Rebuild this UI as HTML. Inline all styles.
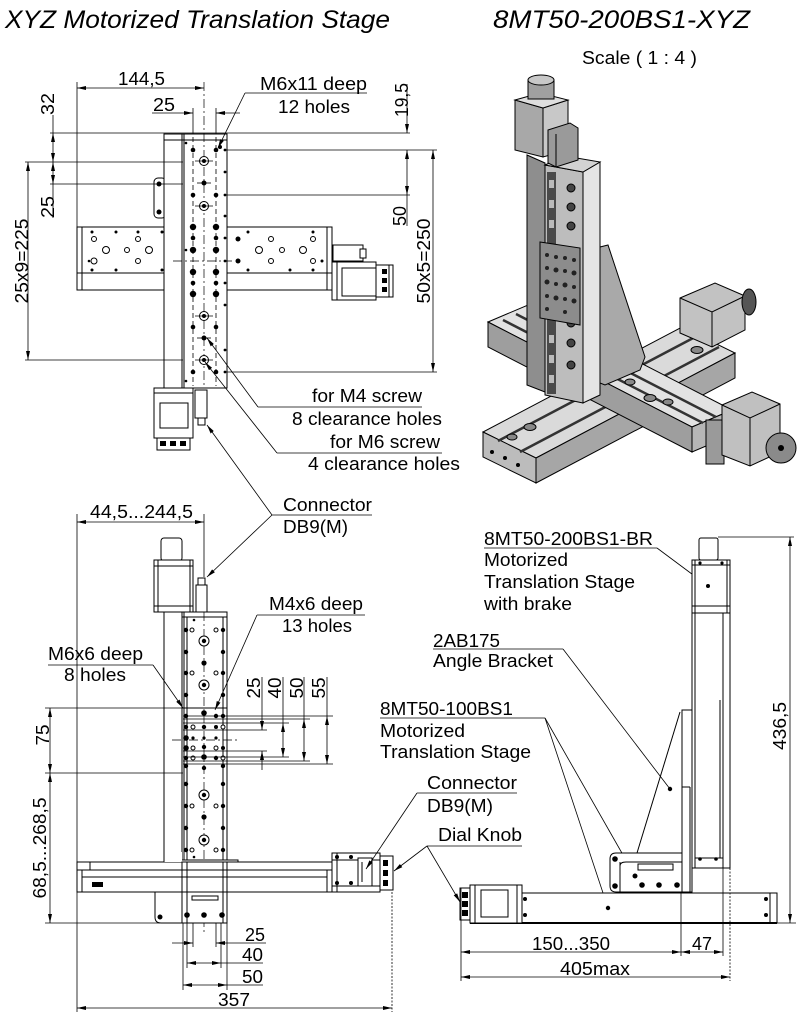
<!DOCTYPE html>
<html><head><meta charset="utf-8">
<style>
html,body{margin:0;padding:0;background:#fff;}
svg{display:block;}
text{font-family:"Liberation Sans",Arial,sans-serif;font-size:18px;fill:#000;}
.ti{font-style:italic;font-size:25px;}
.l{stroke:#000;stroke-width:1;fill:none;}
.d{stroke:#000;stroke-width:0.8;fill:none;}
.w{fill:#fff;stroke:#000;stroke-width:1;}
.k{fill:#000;}
.o{fill:#fff;stroke:#000;stroke-width:1;}
.ds{stroke:#000;stroke-width:0.8;stroke-dasharray:5 3;fill:none;}
.cl{stroke:#000;stroke-width:0.7;stroke-dasharray:9 3 2 3;fill:none;}
.g{stroke:#000;stroke-width:0.8;}
</style></head><body>
<svg width="798" height="1023" viewBox="0 0 798 1023" xmlns="http://www.w3.org/2000/svg">
<defs>
<marker id="a" viewBox="0 0 9 4" refX="9" refY="2" markerWidth="9" markerHeight="4" orient="auto-start-reverse" markerUnits="userSpaceOnUse"><path d="M0,0L9,2L0,4z" fill="#000"/></marker>
</defs>

<!-- TITLES -->
<text class="ti" x="5" y="28" textLength="385" lengthAdjust="spacingAndGlyphs">XYZ Motorized Translation Stage</text>
<text class="ti" x="493" y="28" textLength="257" lengthAdjust="spacingAndGlyphs">8MT50-200BS1-XYZ</text>
<text x="582" y="64" font-size="16" textLength="115" lengthAdjust="spacingAndGlyphs">Scale ( 1 : 4 )</text>

<!-- ================= TOP-LEFT (top view) ================= -->
<!-- X stage -->
<rect class="w" x="77" y="227" width="255" height="63"/>
<line class="l" x1="77" y1="273" x2="332" y2="273"/>
<line class="l" x1="82" y1="227" x2="82" y2="290"/>
<line class="l" x1="327" y1="227" x2="327" y2="290"/>
<g class="o">
<circle cx="94" cy="239" r="2.5"/><circle cx="106" cy="250" r="3.5"/><circle cx="127" cy="250" r="2.5"/><circle cx="149" cy="250" r="3.5"/><circle cx="138" cy="239" r="2.5"/><circle cx="138" cy="261" r="2.5"/><circle cx="94" cy="261" r="3"/>
<circle cx="271" cy="239" r="2.5"/><circle cx="259" cy="250" r="3.5"/><circle cx="282" cy="250" r="2.5"/><circle cx="303" cy="250" r="3.5"/><circle cx="271" cy="261" r="2.5"/><circle cx="313" cy="239" r="2.5"/><circle cx="313" cy="261" r="2.5"/>
</g>
<g class="k">
<circle cx="92" cy="232" r="1.5"/><circle cx="116" cy="232" r="1.5"/><circle cx="138" cy="232" r="1.5"/><circle cx="162" cy="232" r="1.5"/><circle cx="248" cy="232" r="1.5"/><circle cx="313" cy="232" r="1.5"/>
<circle cx="92" cy="270" r="1.5"/><circle cx="116" cy="270" r="1.5"/><circle cx="162" cy="270" r="1.5"/><circle cx="248" cy="270" r="1.5"/><circle cx="290" cy="270" r="1.5"/><circle cx="313" cy="270" r="1.5"/>
<circle cx="89" cy="261" r="1.3"/><circle cx="322" cy="261" r="1.5"/><circle cx="238" cy="261" r="2.5"/><circle cx="238" cy="239" r="2.5"/>
</g>
<!-- X motor (top view) -->
<rect class="w" x="333" y="245" width="30" height="16"/>
<rect class="w" x="360" y="249" width="6" height="9"/>
<rect class="w" x="332" y="262" width="44" height="38"/>
<line class="l" x1="337" y1="262" x2="337" y2="300"/>
<rect class="w" x="342" y="268" width="34" height="28"/>
<rect class="w" x="376" y="265" width="17" height="32"/>
<line class="l" x1="389" y1="265" x2="389" y2="297"/>
<g class="k"><rect x="382" y="269" width="5" height="5"/><rect x="382" y="278" width="5" height="5"/><rect x="382" y="287" width="5" height="5"/></g>

<!-- Bracket left of column -->
<rect class="w" x="154" y="178" width="12" height="40" rx="4"/>
<circle class="k" cx="159" cy="184" r="2.5"/><circle class="k" cx="159" cy="212" r="2.5"/>

<!-- Column (Y stage top view) -->
<rect class="w" x="164" y="134" width="63" height="254"/>
<line class="l" x1="182" y1="134" x2="182" y2="388"/>
<line class="l" x1="184" y1="134" x2="184" y2="388"/>
<line class="l" x1="164" y1="140" x2="227" y2="140"/>
<line class="ds" x1="193" y1="137" x2="193" y2="386"/>
<line class="ds" x1="216" y1="137" x2="216" y2="386"/>
<line class="cl" x1="204" y1="82" x2="204" y2="386"/>
<line class="cl" x1="173" y1="261" x2="232" y2="261"/>
<g class="k">
<circle cx="193" cy="150" r="2.3"/><circle cx="216" cy="150" r="2.3"/>
<circle cx="193" cy="195" r="2.3"/><circle cx="216" cy="195" r="2.3"/>
<circle cx="193" cy="227" r="3.2"/><circle cx="216" cy="227" r="3.2"/>
<circle cx="193" cy="238" r="2.3"/><circle cx="216" cy="238" r="2.3"/>
<circle cx="193" cy="250" r="3.2"/><circle cx="216" cy="250" r="3.2"/>
<circle cx="193" cy="272" r="3.2"/><circle cx="216" cy="272" r="3.2"/>
<circle cx="193" cy="283" r="2.3"/><circle cx="216" cy="283" r="2.3"/>
<circle cx="193" cy="294" r="3.2"/><circle cx="216" cy="294" r="3.2"/>
<circle cx="193" cy="327" r="2.3"/><circle cx="216" cy="327" r="2.3"/>
<circle cx="193" cy="372" r="2.3"/><circle cx="216" cy="372" r="2.3"/>
<circle cx="204" cy="183" r="2.5"/><circle cx="204" cy="338" r="2.5"/>
<circle cx="225" cy="150" r="1.4"/><circle cx="225" cy="172" r="1.4"/><circle cx="225" cy="195" r="1.4"/><circle cx="225" cy="216" r="1.4"/><circle cx="225" cy="238" r="1.4"/><circle cx="225" cy="261" r="1.4"/><circle cx="225" cy="283" r="1.4"/><circle cx="225" cy="305" r="1.4"/><circle cx="225" cy="350" r="1.4"/><circle cx="225" cy="372" r="1.4"/>
<circle cx="186" cy="143" r="1.3"/><circle cx="186" cy="250" r="1.3"/><circle cx="186" cy="381" r="1.3"/><circle cx="220" cy="147" r="2"/>
</g>
<g><circle class="o" cx="204" cy="161" r="4.5"/><circle class="k" cx="204" cy="161" r="2"/>
<circle class="o" cx="204" cy="206" r="4.5"/><circle class="k" cx="204" cy="206" r="2"/>
<circle class="o" cx="204" cy="316" r="4.5"/><circle class="k" cx="204" cy="316" r="2"/>
<circle class="o" cx="204" cy="360" r="4.5"/><circle class="k" cx="204" cy="360" r="2"/></g>
<g class="d"><line x1="195" y1="161" x2="213" y2="161"/><line x1="195" y1="206" x2="213" y2="206"/><line x1="195" y1="316" x2="213" y2="316"/><line x1="195" y1="360" x2="213" y2="360"/><line x1="197" y1="183" x2="211" y2="183"/><line x1="197" y1="338" x2="211" y2="338"/></g>

<!-- Y motor (top view, bottom) -->
<rect class="w" x="154" y="388" width="39" height="50"/>
<line class="l" x1="154" y1="393" x2="193" y2="393"/>
<rect class="w" x="160" y="403" width="28" height="25"/>
<rect class="w" x="157" y="438" width="33" height="12"/>
<g class="k"><rect x="160" y="441" width="6" height="5"/><rect x="170" y="441" width="6" height="5"/><rect x="180" y="441" width="6" height="5"/></g>
<rect class="w" x="195" y="390" width="12" height="28"/>
<rect class="w" x="198" y="418" width="7" height="7"/>

<!-- dims top-left -->
<line class="d" x1="77" y1="82" x2="77" y2="227"/>
<line class="d" x1="77" y1="88" x2="204" y2="88" marker-start="url(#a)" marker-end="url(#a)"/>
<text x="118" y="85" textLength="47" lengthAdjust="spacingAndGlyphs">144,5</text>
<line class="d" x1="193" y1="108" x2="193" y2="134"/>
<line class="d" x1="216" y1="108" x2="216" y2="134"/>
<line class="d" x1="152" y1="113" x2="193" y2="113" marker-end="url(#a)"/>
<line class="d" x1="240" y1="113" x2="216" y2="113" marker-end="url(#a)"/>
<text x="153" y="111" textLength="22" lengthAdjust="spacingAndGlyphs">25</text>

<line class="d" x1="50" y1="133" x2="410" y2="133"/>
<line class="d" x1="25" y1="162" x2="183" y2="162"/>
<line class="d" x1="50" y1="184" x2="183" y2="184"/>
<line class="d" x1="25" y1="360" x2="183" y2="360"/>
<line class="d" x1="227" y1="150" x2="437" y2="150"/>
<line class="d" x1="227" y1="195" x2="410" y2="195"/>
<line class="d" x1="227" y1="372" x2="437" y2="372"/>

<line class="d" x1="53" y1="115" x2="53" y2="133"/>
<line class="d" x1="53" y1="133" x2="53" y2="162" marker-start="url(#a)" marker-end="url(#a)"/>
<line class="d" x1="53" y1="162" x2="53" y2="184" marker-start="url(#a)" marker-end="url(#a)"/>
<line class="d" x1="53" y1="184" x2="53" y2="218"/>
<text transform="translate(48,104) rotate(-90)" x="0" y="6" text-anchor="middle" textLength="22" lengthAdjust="spacingAndGlyphs">32</text>
<text transform="translate(48,207) rotate(-90)" x="0" y="6" text-anchor="middle" textLength="22" lengthAdjust="spacingAndGlyphs">25</text>
<line class="d" x1="28" y1="162" x2="28" y2="360" marker-start="url(#a)" marker-end="url(#a)"/>
<text transform="translate(22,261) rotate(-90)" x="0" y="6" text-anchor="middle" textLength="85" lengthAdjust="spacingAndGlyphs">25x9=225</text>

<line class="d" x1="407" y1="84" x2="407" y2="133" marker-end="url(#a)"/>
<line class="d" x1="407" y1="150" x2="407" y2="195" marker-start="url(#a)" marker-end="url(#a)"/>
<line class="d" x1="407" y1="195" x2="407" y2="226"/>
<text transform="translate(402,100) rotate(-90)" x="0" y="6" text-anchor="middle" textLength="34" lengthAdjust="spacingAndGlyphs">19,5</text>
<text transform="translate(400,216) rotate(-90)" x="0" y="6" text-anchor="middle" textLength="20" lengthAdjust="spacingAndGlyphs">50</text>
<line class="d" x1="433" y1="150" x2="433" y2="372" marker-start="url(#a)" marker-end="url(#a)"/>
<text transform="translate(424,261) rotate(-90)" x="0" y="6" text-anchor="middle" textLength="85" lengthAdjust="spacingAndGlyphs">50x5=250</text>

<!-- leaders top-left -->
<text x="260" y="90" textLength="107" lengthAdjust="spacingAndGlyphs">M6x11 deep</text>
<text x="278" y="113" textLength="72" lengthAdjust="spacingAndGlyphs">12 holes</text>
<line class="d" x1="245" y1="93" x2="367" y2="93"/>
<line class="d" x1="245" y1="93" x2="218" y2="148" marker-end="url(#a)"/>

<text x="312" y="402" textLength="110" lengthAdjust="spacingAndGlyphs">for M4 screw</text>
<line class="d" x1="258" y1="407" x2="422" y2="407"/>
<line class="d" x1="258" y1="407" x2="207" y2="338" marker-end="url(#a)"/>
<text x="292" y="425" textLength="150" lengthAdjust="spacingAndGlyphs">8 clearance holes</text>
<text x="330" y="448" textLength="110" lengthAdjust="spacingAndGlyphs">for M6 screw</text>
<line class="d" x1="277" y1="453" x2="442" y2="453"/>
<line class="d" x1="277" y1="453" x2="205" y2="362" marker-end="url(#a)"/>
<text x="308" y="470" textLength="152" lengthAdjust="spacingAndGlyphs">4 clearance holes</text>

<text x="283" y="511" textLength="89" lengthAdjust="spacingAndGlyphs">Connector</text>
<text x="283" y="533" textLength="65" lengthAdjust="spacingAndGlyphs">DB9(M)</text>
<line class="d" x1="272" y1="515" x2="372" y2="515"/>
<line class="d" x1="272" y1="515" x2="207" y2="425" marker-end="url(#a)"/>
<line class="d" x1="272" y1="515" x2="207" y2="577" marker-end="url(#a)"/>

<!-- ================= 3D VIEW ================= -->
<!-- stage 1 -->
<polygon points="483,432 536,458 735,353 682,327" fill="#dadada" stroke="#000"/>
<polygon points="536,458 735,353 735,378 536,483" fill="#a6a6a6" stroke="#000"/>
<polygon points="483,432 536,458 536,483 483,457" fill="#bcbcbc" stroke="#000"/>
<line x1="498" y1="441" x2="697" y2="336" stroke="#333" stroke-width="2.5"/>
<line x1="520" y1="452" x2="719" y2="347" stroke="#333" stroke-width="2.5"/>
<ellipse cx="530" cy="427" rx="6" ry="3.5" fill="#888" stroke="#000"/>
<ellipse cx="512" cy="437" rx="5" ry="3" fill="#888" stroke="#000"/>
<ellipse cx="697" cy="350" rx="6" ry="3.5" fill="#888" stroke="#000"/>
<circle cx="492" cy="452" r="2" fill="#000"/><circle cx="505" cy="458" r="2" fill="#000"/><circle cx="518" cy="465" r="2" fill="#000"/>
<!-- stage 1 motor -->
<polygon points="680,298 715,283 745,296 745,330 712,347 680,333" fill="#c2c2c2" stroke="#000"/>
<polyline points="680,298 712,312 745,296" fill="none" stroke="#000"/>
<line x1="712" y1="312" x2="712" y2="347" stroke="#000"/>
<ellipse cx="749" cy="302" rx="7" ry="13" fill="#555" stroke="#000"/>
<!-- stage 2 -->
<polygon points="488,322 528,305 732,410 692,427" fill="#e2e2e2" stroke="#000"/>
<polygon points="488,322 692,427 692,452 488,347" fill="#9e9e9e" stroke="#000"/>
<polygon points="692,427 732,410 732,435 692,452" fill="#b6b6b6" stroke="#000"/>
<line x1="503" y1="320" x2="703" y2="423" stroke="#333" stroke-width="2.5"/>
<line x1="516" y1="314" x2="716" y2="417" stroke="#333" stroke-width="2.5"/>
<ellipse cx="650" cy="398" rx="6" ry="3.5" fill="#888" stroke="#000"/>
<ellipse cx="668" cy="402" rx="5" ry="3" fill="#888" stroke="#000"/>
<ellipse cx="630" cy="382" rx="5" ry="3" fill="#888" stroke="#000"/>
<!-- stage 2 motor -->
<rect x="706" y="420" width="18" height="44" fill="#9a9a9a" stroke="#000"/>
<polygon points="722,405 752,392 780,404 780,452 750,466 722,455" fill="#c0c0c0" stroke="#000"/>
<polyline points="722,405 750,418 780,404" fill="none" stroke="#000"/>
<line x1="750" y1="418" x2="750" y2="466" stroke="#000"/>
<circle cx="781" cy="448" r="15" fill="#8a8a8a" stroke="#000"/>
<circle cx="781" cy="448" r="3" fill="#000"/>
<!-- bracket -->
<polygon points="600,247 608,245 645,357 640,370 605,385 600,383" fill="#a9a9a9" stroke="#000"/>
<!-- column -->
<polygon points="527,155 545,163 545,392 527,385" fill="#8e8e8e" stroke="#000"/>
<polygon points="545,165 583,172 583,403 545,395" fill="#bdbdbd" stroke="#000"/>
<polygon points="583,172 600,162 600,395 583,403" fill="#e4e4e4" stroke="#000"/>
<polygon points="545,165 565,156 600,162 583,172" fill="#d2d2d2" stroke="#000"/>
<rect x="547" y="172" width="9" height="222" fill="#4a4a4a"/>
<g fill="#bbb"><rect x="549" y="180" width="5" height="8"/><rect x="549" y="200" width="5" height="8"/><rect x="549" y="220" width="5" height="8"/><rect x="549" y="335" width="5" height="8"/><rect x="549" y="355" width="5" height="8"/><rect x="549" y="375" width="5" height="8"/></g>
<g fill="#444" stroke="#000"><circle cx="571" cy="188" r="4"/><circle cx="571" cy="207" r="4"/><circle cx="571" cy="226" r="4"/><circle cx="571" cy="323" r="4"/><circle cx="571" cy="343" r="4"/><circle cx="571" cy="365" r="4"/></g>
<polygon points="540,242 580,248 580,325 540,318" fill="#8c8c8c" stroke="#000"/>
<g fill="#222"><circle cx="547" cy="255" r="2"/><circle cx="556" cy="257" r="2"/><circle cx="565" cy="258" r="2"/><circle cx="574" cy="260" r="2"/><circle cx="547" cy="268" r="2"/><circle cx="556" cy="270" r="2.5"/><circle cx="565" cy="271" r="2"/><circle cx="574" cy="273" r="2.5"/><circle cx="547" cy="282" r="2.5"/><circle cx="556" cy="284" r="2"/><circle cx="565" cy="285" r="2.5"/><circle cx="574" cy="287" r="2"/><circle cx="547" cy="296" r="2"/><circle cx="556" cy="298" r="2.5"/><circle cx="565" cy="299" r="2"/><circle cx="574" cy="301" r="2.5"/><circle cx="547" cy="309" r="2"/><circle cx="565" cy="312" r="2"/></g>
<!-- Z motor -->
<polygon points="515,100 543,108 543,157 515,150" fill="#a8a8a8" stroke="#000"/>
<polygon points="543,108 568,100 568,150 543,157" fill="#c8c8c8" stroke="#000"/>
<polygon points="515,100 540,93 568,100 543,108" fill="#dedede" stroke="#000"/>
<rect x="528" y="80" width="26" height="19" fill="#a0a0a0" stroke="#000"/>
<ellipse cx="541" cy="80" rx="13" ry="5" fill="#c8c8c8" stroke="#000"/>
<polygon points="548,130 570,123 578,128 578,160 556,167 548,163" fill="#9a9a9a" stroke="#000"/>
<line x1="556" y1="134" x2="556" y2="167" stroke="#000"/>

<!-- ================= BOTTOM-LEFT (front view) ================= -->
<line class="d" x1="77" y1="514" x2="77" y2="1012"/>
<line class="d" x1="204" y1="514" x2="204" y2="577"/>
<line class="d" x1="77" y1="522" x2="204" y2="522" marker-start="url(#a)" marker-end="url(#a)"/>
<text x="90" y="518" textLength="103" lengthAdjust="spacingAndGlyphs">44,5...244,5</text>
<!-- Z motor -->
<rect class="w" x="161" y="538" width="21" height="23" rx="3"/>
<rect class="w" x="154" y="560" width="39" height="52"/>
<line class="l" x1="158" y1="560" x2="158" y2="612"/>
<line class="l" x1="190" y1="560" x2="190" y2="612"/>
<line class="l" x1="154" y1="566" x2="193" y2="566"/>
<line class="l" x1="154" y1="606" x2="193" y2="606"/>
<rect class="w" x="196" y="585" width="11" height="27"/>
<rect class="w" x="198" y="578" width="7" height="7"/>
<!-- column -->
<rect class="w" x="164" y="612" width="63" height="250"/>
<line class="l" x1="182" y1="612" x2="182" y2="862"/>
<line class="l" x1="184" y1="612" x2="184" y2="862"/>
<line class="l" x1="187" y1="617" x2="187" y2="862"/>
<line class="l" x1="223" y1="617" x2="223" y2="862"/>
<line class="l" x1="182" y1="617" x2="227" y2="617"/>
<line class="l" x1="182" y1="708" x2="227" y2="708"/>
<line class="cl" x1="204" y1="612" x2="204" y2="935"/>
<g class="k">
<circle cx="186" cy="630" r="2.2"/><circle cx="223" cy="630" r="2.2"/><circle cx="186" cy="652" r="2.2"/><circle cx="223" cy="652" r="2.2"/><circle cx="186" cy="673" r="2.2"/><circle cx="223" cy="673" r="2.2"/><circle cx="186" cy="695" r="2.2"/><circle cx="223" cy="695" r="2.2"/>
<circle cx="204" cy="663" r="2.6"/>
<circle cx="204" cy="817" r="2.6"/>
<circle cx="186" cy="784" r="2.2"/><circle cx="223" cy="784" r="2.2"/><circle cx="186" cy="828" r="2.2"/><circle cx="223" cy="828" r="2.2"/><circle cx="186" cy="850" r="2.2"/><circle cx="223" cy="850" r="2.2"/><circle cx="186" cy="806" r="2.2"/><circle cx="223" cy="806" r="2.2"/>
<circle cx="194" cy="857" r="1.3"/><circle cx="194" cy="620" r="1.3"/>
</g>
<g class="o"><circle cx="192" cy="630" r="2"/><circle cx="216" cy="630" r="2"/><circle cx="192" cy="673" r="2"/><circle cx="216" cy="673" r="2"/><circle cx="192" cy="806" r="2"/><circle cx="216" cy="806" r="2"/><circle cx="192" cy="850" r="2"/><circle cx="216" cy="850" r="2"/></g>
<circle class="o" cx="204" cy="641" r="5"/><circle class="k" cx="204" cy="641" r="2.2"/>
<circle class="o" cx="204" cy="685" r="5"/><circle class="k" cx="204" cy="685" r="2.2"/>
<circle class="o" cx="204" cy="795" r="5"/><circle class="k" cx="204" cy="795" r="2.2"/>
<circle class="o" cx="204" cy="840" r="5"/><circle class="k" cx="204" cy="840" r="2.2"/>
<!-- hole grid -->
<g class="k">
<circle cx="186" cy="716" r="2.2"/><circle cx="204" cy="713" r="2.8"/><circle cx="216" cy="716" r="2.2"/><circle cx="223" cy="716" r="2.2"/>
<circle cx="186" cy="727" r="2.2"/><circle cx="204" cy="727" r="2.2"/><circle cx="216" cy="727" r="2"/>
<circle cx="186" cy="738" r="2.8"/><circle cx="193" cy="738" r="1.6"/><circle cx="204" cy="738" r="1.6"/><circle cx="216" cy="738" r="1.6"/>
<circle cx="186" cy="748" r="2.8"/><circle cx="204" cy="747" r="2.2"/><circle cx="223" cy="748" r="2"/>
<circle cx="186" cy="758" r="2.2"/><circle cx="204" cy="757" r="2.8"/><circle cx="216" cy="758" r="2.2"/>
<circle cx="186" cy="766" r="2.2"/><circle cx="204" cy="768" r="2.2"/><circle cx="223" cy="766" r="2.2"/>
</g>
<g class="o"><circle cx="193" cy="727" r="2"/><circle cx="223" cy="727" r="2"/><circle cx="193" cy="748" r="2"/><circle cx="216" cy="748" r="2"/><circle cx="193" cy="758" r="2"/><circle cx="223" cy="758" r="2"/></g>
<line class="cl" x1="172" y1="740" x2="237" y2="740"/>
<!-- M4x6 / M6x6 leaders -->
<text x="269" y="610" textLength="94" lengthAdjust="spacingAndGlyphs">M4x6 deep</text>
<text x="282" y="632" textLength="70" lengthAdjust="spacingAndGlyphs">13 holes</text>
<line class="d" x1="257" y1="615" x2="365" y2="615"/>
<line class="d" x1="257" y1="615" x2="215" y2="710" marker-end="url(#a)"/>
<text x="48" y="660" textLength="95" lengthAdjust="spacingAndGlyphs">M6x6 deep</text>
<text x="64" y="681" textLength="62" lengthAdjust="spacingAndGlyphs">8 holes</text>
<line class="d" x1="48" y1="665" x2="153" y2="665"/>
<line class="d" x1="153" y1="665" x2="183" y2="708" marker-end="url(#a)"/>
<!-- 25/40/50/55 dims -->
<line class="d" x1="183" y1="716" x2="333" y2="716"/>
<line class="d" x1="183" y1="719" x2="310" y2="719"/>
<line class="d" x1="183" y1="723" x2="289" y2="723"/>
<line class="d" x1="183" y1="730" x2="267" y2="730"/>
<line class="d" x1="183" y1="751" x2="267" y2="751"/>
<line class="d" x1="183" y1="757" x2="289" y2="757"/>
<line class="d" x1="183" y1="761" x2="310" y2="761"/>
<line class="d" x1="183" y1="764" x2="333" y2="764"/>
<line class="d" x1="262" y1="677" x2="262" y2="730" marker-end="url(#a)"/>
<line class="d" x1="262" y1="770" x2="262" y2="751" marker-end="url(#a)"/>
<line class="d" x1="283" y1="677" x2="283" y2="723"/>
<line class="d" x1="283" y1="723" x2="283" y2="757" marker-start="url(#a)" marker-end="url(#a)"/>
<line class="d" x1="304" y1="677" x2="304" y2="719"/>
<line class="d" x1="304" y1="719" x2="304" y2="761" marker-start="url(#a)" marker-end="url(#a)"/>
<line class="d" x1="327" y1="677" x2="327" y2="716"/>
<line class="d" x1="327" y1="716" x2="327" y2="764" marker-start="url(#a)" marker-end="url(#a)"/>
<text transform="translate(254,688) rotate(-90)" x="0" y="6" text-anchor="middle" textLength="21" lengthAdjust="spacingAndGlyphs">25</text>
<text transform="translate(275,688) rotate(-90)" x="0" y="6" text-anchor="middle" textLength="21" lengthAdjust="spacingAndGlyphs">40</text>
<text transform="translate(297,688) rotate(-90)" x="0" y="6" text-anchor="middle" textLength="21" lengthAdjust="spacingAndGlyphs">50</text>
<text transform="translate(319,688) rotate(-90)" x="0" y="6" text-anchor="middle" textLength="21" lengthAdjust="spacingAndGlyphs">55</text>
<!-- 75 / 68,5 dims -->
<line class="d" x1="45" y1="708" x2="183" y2="708"/>
<line class="d" x1="45" y1="773" x2="183" y2="773"/>
<line class="d" x1="45" y1="923" x2="160" y2="923"/>
<line class="d" x1="50" y1="708" x2="50" y2="773" marker-start="url(#a)" marker-end="url(#a)"/>
<line class="d" x1="50" y1="773" x2="50" y2="923" marker-start="url(#a)" marker-end="url(#a)"/>
<text transform="translate(43,735) rotate(-90)" x="0" y="6" text-anchor="middle" textLength="21" lengthAdjust="spacingAndGlyphs">75</text>
<text transform="translate(40,848) rotate(-90)" x="0" y="6" text-anchor="middle" textLength="101" lengthAdjust="spacingAndGlyphs">68,5...268,5</text>
<!-- X stage side view -->
<rect class="w" x="166" y="860" width="72" height="8"/>
<rect class="w" x="77" y="862" width="255" height="30"/>
<line class="l" x1="77" y1="870" x2="332" y2="870"/>
<line class="l" x1="82" y1="877" x2="327" y2="877"/>
<line class="l" x1="82" y1="870" x2="82" y2="892"/>
<line class="l" x1="327" y1="870" x2="327" y2="892"/>
<line class="l" x1="90" y1="862" x2="90" y2="870"/>
<rect x="92" y="882" width="11" height="5" fill="#000"/>
<rect x="164" y="852" width="18" height="10" fill="#fff" stroke="none"/>
<line class="l" x1="164" y1="612" x2="164" y2="862"/>
<!-- column lower part -->
<rect class="w" x="182" y="862" width="45" height="61"/>
<line class="l" x1="187" y1="862" x2="187" y2="923"/>
<line class="l" x1="223" y1="862" x2="223" y2="923"/>
<line class="l" x1="182" y1="870" x2="227" y2="870"/>
<line class="l" x1="182" y1="877" x2="227" y2="877"/>
<line class="l" x1="182" y1="892" x2="227" y2="892"/>
<rect class="w" x="192" y="896" width="26" height="4"/>
<g class="k"><circle cx="187" cy="915" r="2.8"/><circle cx="204" cy="915" r="2.8"/><circle cx="222" cy="915" r="2.8"/></g>
<path class="w" d="M182,892 L155,892 L155,917 Q155,923 161,923 L182,923 Z"/>
<circle class="k" cx="160" cy="917" r="2.5"/>
<!-- X motor side -->
<rect class="w" x="332" y="853" width="48" height="39"/>
<line class="l" x1="337" y1="853" x2="337" y2="892"/>
<line class="l" x1="332" y1="860" x2="380" y2="860"/>
<line class="l" x1="332" y1="886" x2="380" y2="886"/>
<rect class="w" x="358" y="858" width="14" height="28"/>
<line class="l" x1="362" y1="862" x2="362" y2="882"/>
<g class="k"><circle cx="337" cy="857" r="2"/><circle cx="351" cy="857" r="2"/><circle cx="337" cy="883" r="2"/><circle cx="351" cy="883" r="2"/></g>
<rect class="w" x="380" y="856" width="13" height="34"/>
<g class="k"><rect x="383" y="860" width="5" height="6"/><rect x="383" y="870" width="5" height="6"/><rect x="383" y="880" width="5" height="6"/></g>
<!-- bottom dims -->
<line class="d" x1="183" y1="923" x2="183" y2="990"/>
<line class="d" x1="187" y1="923" x2="187" y2="968"/>
<line class="d" x1="193" y1="923" x2="193" y2="947"/>
<line class="d" x1="216" y1="923" x2="216" y2="947"/>
<line class="d" x1="221" y1="923" x2="221" y2="968"/>
<line class="d" x1="227" y1="923" x2="227" y2="990"/>
<line class="d" x1="392" y1="892" x2="392" y2="1012" stroke-dasharray="2 1.5"/>
<line class="d" x1="172" y1="943" x2="193" y2="943" marker-end="url(#a)"/>
<line class="d" x1="266" y1="943" x2="216" y2="943" marker-end="url(#a)"/>
<text x="245" y="941" textLength="20" lengthAdjust="spacingAndGlyphs">25</text>
<line class="d" x1="187" y1="963" x2="221" y2="963" marker-start="url(#a)" marker-end="url(#a)"/>
<line class="d" x1="221" y1="963" x2="263" y2="963"/>
<text x="242" y="961" textLength="21" lengthAdjust="spacingAndGlyphs">40</text>
<line class="d" x1="183" y1="985" x2="227" y2="985" marker-start="url(#a)" marker-end="url(#a)"/>
<line class="d" x1="227" y1="985" x2="263" y2="985"/>
<text x="242" y="983" textLength="21" lengthAdjust="spacingAndGlyphs">50</text>
<line class="d" x1="77" y1="1008" x2="392" y2="1008" marker-start="url(#a)" marker-end="url(#a)"/>
<text x="218" y="1006" textLength="32" lengthAdjust="spacingAndGlyphs">357</text>

<!-- ================= BOTTOM-RIGHT (side view) ================= -->
<text x="484" y="545" textLength="169" lengthAdjust="spacingAndGlyphs">8MT50-200BS1-BR</text>
<line class="d" x1="484" y1="548" x2="657" y2="548"/>
<line class="d" x1="657" y1="548" x2="708" y2="586"/>
<text x="484" y="566" textLength="84" lengthAdjust="spacingAndGlyphs">Motorized</text>
<text x="484" y="588" textLength="151" lengthAdjust="spacingAndGlyphs">Translation Stage</text>
<text x="484" y="610" textLength="88" lengthAdjust="spacingAndGlyphs">with brake</text>
<text x="433" y="647" textLength="67" lengthAdjust="spacingAndGlyphs">2AB175</text>
<line class="d" x1="433" y1="649" x2="563" y2="649"/>
<line class="d" x1="563" y1="649" x2="670" y2="789"/>
<text x="433" y="667" textLength="120" lengthAdjust="spacingAndGlyphs">Angle Bracket</text>
<text x="380" y="715" textLength="133" lengthAdjust="spacingAndGlyphs">8MT50-100BS1</text>
<line class="d" x1="380" y1="718" x2="545" y2="718"/>
<line class="d" x1="545" y1="718" x2="635" y2="876"/>
<line class="d" x1="545" y1="718" x2="608" y2="908"/>
<text x="380" y="737" textLength="85" lengthAdjust="spacingAndGlyphs">Motorized</text>
<text x="380" y="758" textLength="151" lengthAdjust="spacingAndGlyphs">Translation Stage</text>
<text x="427" y="789" textLength="90" lengthAdjust="spacingAndGlyphs">Connector</text>
<text x="427" y="812" textLength="66" lengthAdjust="spacingAndGlyphs">DB9(M)</text>
<line class="d" x1="417" y1="793" x2="517" y2="793"/>
<line class="d" x1="417" y1="793" x2="366" y2="869" marker-end="url(#a)"/>
<text x="438" y="841" textLength="84" lengthAdjust="spacingAndGlyphs">Dial Knob</text>
<line class="d" x1="427" y1="846" x2="522" y2="846"/>
<line class="d" x1="427" y1="846" x2="394" y2="871" marker-end="url(#a)"/>
<line class="d" x1="427" y1="846" x2="460" y2="902" marker-end="url(#a)"/>

<!-- motor + column -->
<rect class="w" x="699" y="538" width="19" height="22" rx="2"/>
<rect class="w" x="692" y="560" width="38" height="53"/>
<line class="l" x1="695" y1="560" x2="695" y2="613"/>
<line class="l" x1="727" y1="560" x2="727" y2="613"/>
<line class="l" x1="692" y1="565" x2="730" y2="565"/>
<line class="l" x1="692" y1="606" x2="730" y2="606"/>
<g class="k"><circle cx="708" cy="586" r="2"/><circle cx="700" cy="563" r="1.6"/><circle cx="722" cy="563" r="1.6"/><circle cx="700" cy="616" r="1.6"/><circle cx="716" cy="616" r="1.6"/></g>
<rect class="w" x="692" y="613" width="38" height="255"/>
<line class="l" x1="695" y1="613" x2="695" y2="868"/>
<line class="l" x1="723" y1="613" x2="723" y2="868"/>
<line class="l" x1="720" y1="700" x2="720" y2="858"/>
<rect class="w" x="695" y="858" width="28" height="10"/>
<g class="k"><circle cx="700" cy="859" r="1.8"/><circle cx="716" cy="859" r="1.8"/></g>
<!-- bracket -->
<rect class="w" x="682" y="710" width="10" height="182"/>
<line class="l" x1="682" y1="787" x2="690" y2="787"/>
<line class="l" x1="690" y1="787" x2="690" y2="892"/>
<line class="l" x1="680" y1="712" x2="637" y2="853"/>
<circle class="k" cx="670" cy="789" r="2.2"/>
<path class="w" d="M682,853 L616,853 Q610,853 610,859 L610,886 Q610,892 616,892 L682,892 Z"/>
<line class="l" x1="637" y1="862" x2="682" y2="862"/>
<line class="l" x1="620" y1="862" x2="620" y2="892"/>
<path class="l" d="M620,866 Q620,862 626,862 L637,862"/>
<rect class="w" x="638" y="864" width="35" height="6"/>
<g class="k"><circle cx="615" cy="859" r="2.8"/><circle cx="615" cy="886" r="2.8"/><circle cx="635" cy="876" r="2.5"/><circle cx="642" cy="885" r="2.8"/><circle cx="659" cy="885" r="2.8"/><circle cx="677" cy="885" r="2.8"/></g>
<!-- lower stage -->
<rect class="w" x="522" y="893" width="255" height="30"/>
<line x1="470" y1="923" x2="777" y2="923" stroke="#000" stroke-width="2"/>
<line class="l" x1="770" y1="893" x2="770" y2="923"/>
<g class="k"><circle cx="525" cy="899" r="2"/><circle cx="525" cy="915" r="2"/><circle cx="766" cy="899" r="2"/><circle cx="766" cy="915" r="2"/><circle cx="608" cy="908" r="2.2"/></g>
<rect class="w" x="470" y="885" width="52" height="38"/>
<line class="l" x1="475" y1="885" x2="475" y2="923"/>
<line class="l" x1="517" y1="885" x2="517" y2="923"/>
<rect class="w" x="481" y="890" width="27" height="27"/>
<rect class="w" x="460" y="888" width="10" height="32"/>
<g class="k"><rect x="462" y="892" width="6" height="6"/><rect x="462" y="901" width="6" height="6"/><rect x="462" y="910" width="6" height="6"/></g>
<!-- dims -->
<line class="d" x1="718" y1="537" x2="794" y2="537"/>
<line class="d" x1="777" y1="923" x2="796" y2="923"/>
<line class="d" x1="790" y1="537" x2="790" y2="923" marker-start="url(#a)" marker-end="url(#a)"/>
<text transform="translate(780,726) rotate(-90)" x="0" y="6" text-anchor="middle" textLength="48" lengthAdjust="spacingAndGlyphs">436,5</text>
<line class="d" x1="461" y1="888" x2="461" y2="981"/>
<line class="d" x1="681" y1="892" x2="681" y2="956"/>
<line class="d" x1="723" y1="868" x2="723" y2="956"/>
<line class="d" x1="730" y1="868" x2="730" y2="981" stroke-dasharray="2 1.5"/>
<line class="d" x1="461" y1="952" x2="681" y2="952" marker-start="url(#a)" marker-end="url(#a)"/>
<text x="532" y="950" textLength="78" lengthAdjust="spacingAndGlyphs">150...350</text>
<line class="d" x1="681" y1="952" x2="723" y2="952" marker-start="url(#a)" marker-end="url(#a)"/>
<text x="692" y="950" textLength="20" lengthAdjust="spacingAndGlyphs">47</text>
<line class="d" x1="461" y1="977" x2="730" y2="977" marker-start="url(#a)" marker-end="url(#a)"/>
<text x="560" y="975" textLength="70" lengthAdjust="spacingAndGlyphs">405max</text>
</svg>
</body></html>
